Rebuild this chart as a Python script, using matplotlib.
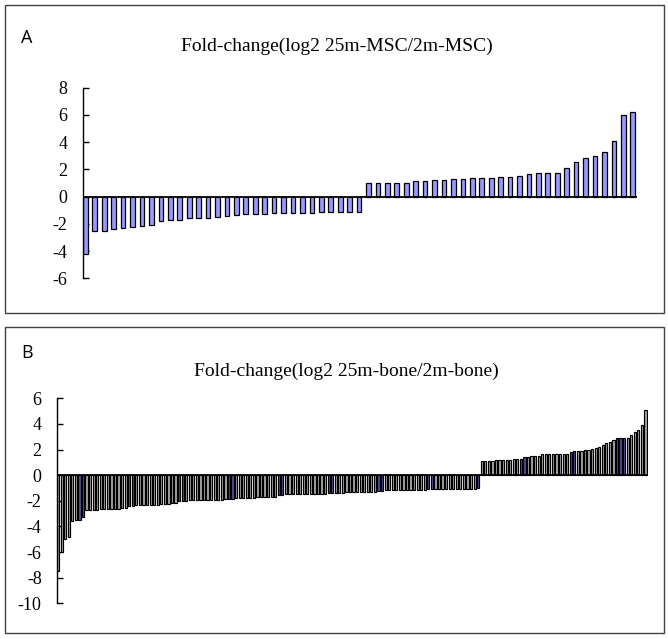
import matplotlib
matplotlib.use("Agg")
import matplotlib.pyplot as plt
from matplotlib.patches import Rectangle
import numpy as np

plt.rcParams["axes.unicode_minus"] = False

# panel A: log2 fold change 25m-MSC / 2m-MSC, sorted
msc_down = [-4.2, -2.5, -2.5, -2.4, -2.3, -2.25, -2.15, -2.07, -1.8, -1.73,
            -1.73, -1.6, -1.55, -1.55, -1.5, -1.45, -1.37, -1.3, -1.3, -1.25,
            -1.2, -1.2, -1.2, -1.17, -1.17, -1.12, -1.12, -1.12, -1.1, -1.1]
msc_up = [1.02, 1.02, 1.02, 1.02, 1.02, 1.15, 1.15, 1.22, 1.22, 1.3,
          1.3, 1.37, 1.37, 1.37, 1.46, 1.46, 1.54, 1.63, 1.7, 1.7,
          1.7, 2.07, 2.56, 2.8, 2.98, 3.3, 4.1, 6.02, 6.2]

# panel B: log2 fold change 25m-bone / 2m-bone, sorted
bone_down = [-7.5, -6.0, -5.0, -4.8, -3.6, -3.5, -3.5, -3.25, -2.72,
             -2.7, -2.69, -2.68, -2.67, -2.66, -2.66, -2.65, -2.64, -2.62, -2.6, -2.56,
             -2.42, -2.4,
             -2.36, -2.34, -2.33, -2.32, -2.31, -2.3, -2.29, -2.28, -2.26, -2.24, -2.2, -2.15,
             -2.04, -2.02,
             -1.98, -1.97, -1.96, -1.95, -1.94, -1.93, -1.93, -1.92, -1.91, -1.9, -1.9, -1.89,
             -1.87, -1.86,
             -1.8, -1.79, -1.78, -1.77, -1.76, -1.75, -1.74, -1.73, -1.72, -1.71, -1.7, -1.68,
             -1.56, -1.55,
             -1.5, -1.5, -1.49, -1.49, -1.48, -1.48, -1.47, -1.47, -1.46, -1.46, -1.45, -1.45,
             -1.42, -1.41,
             -1.38, -1.37, -1.36, -1.35, -1.34, -1.34, -1.33, -1.33, -1.32, -1.32, -1.31, -1.3,
             -1.22, -1.21,
             -1.18, -1.18, -1.17, -1.17, -1.16, -1.16, -1.15, -1.15, -1.14, -1.14, -1.13, -1.13,
             -1.11, -1.1,
             -1.08, -1.08, -1.07, -1.07, -1.07, -1.06, -1.06, -1.06, -1.05, -1.05, -1.05, -1.05,
             -1.03]
bone_up = [1.14, 1.14, 1.14, 1.14, 1.15, 1.15, 1.16, 1.22, 1.22, 1.23,
           1.24, 1.3, 1.42, 1.44, 1.52, 1.52, 1.53, 1.62, 1.62, 1.63,
           1.63, 1.64, 1.65, 1.66, 1.67, 1.8, 1.86, 1.9, 1.9, 1.95,
           1.97, 2.02, 2.1, 2.2, 2.35, 2.5, 2.6, 2.75, 2.88, 2.88,
           2.88, 2.9, 3.1, 3.35, 3.5, 3.9, 5.05]

title_a = "Fold-change(log2 25m-MSC/2m-MSC)"
title_b = "Fold-change(log2 25m-bone/2m-bone)"

W, H = 668, 639
fig = plt.figure(figsize=(W / 100, H / 100), dpi=100)


def px_box(x0, y0, x1, y1):
    # pixel box (top-left origin) -> figure fraction [l, b, w, h]
    return [x0 / W, 1 - y1 / H, (x1 - x0) / W, (y1 - y0) / H]


def style_axis(ax, ymin, ymax):
    ax.set_ylim(ymin, ymax)
    ax.set_yticks(np.arange(ymin, ymax + 1, 2))
    for s in ["top", "right", "bottom"]:
        ax.spines[s].set_visible(False)
    ax.spines["left"].set_linewidth(1.0)
    ax.set_xticks([])
    ax.tick_params(axis="y", direction="in", length=4, width=1.0, pad=11)
    for lab in ax.get_yticklabels():
        lab.set_family("Liberation Serif")
        lab.set_fontsize(13)
    ax.axhline(0, color="black", lw=1.3, zorder=3)
    ax.patch.set_alpha(0)


# panel frames
for box in [(5, 5, 664, 313), (5, 327, 664, 633)]:
    fig.patches.append(Rectangle((box[0] / W, 1 - box[3] / H), (box[2] - box[0]) / W,
                                 (box[3] - box[1]) / H, transform=fig.transFigure,
                                 fill=False, ec="#404040", lw=1.0))

# panel A
vals_a = msc_down + msc_up
axa = fig.add_axes(px_box(83, 87.7, 637, 278.3))
axa.bar(np.arange(len(vals_a)), vals_a, width=0.5, color="#9999ff",
        edgecolor="black", linewidth=0.9, zorder=2)
axa.set_xlim(-0.25, len(vals_a) - 0.55)
style_axis(axa, -6, 8)
fig.text(337 / W, 1 - 46.7 / H, title_a, ha="center", va="center",
         family="Liberation Serif", fontsize=14)
fig.text(27 / W, 1 - 37.7 / H, "A", ha="center", va="center",
         family="Open Sans", fontsize=13)

# panel B
vals_b = bone_down + bone_up
n_b = len(vals_b)
n_dn = len(bone_down)
hl = [i for i in range(n_dn) if i % 14 in (6, 7)]
hl += [n_dn + k for k in (11, 12, 25, 26, 38, 39, 40)]
colors_b = ["#50509e" if i in hl else "#a8a8a8" for i in range(n_b)]
axb = fig.add_axes(px_box(57, 398.3, 648, 603.3))
axb.bar(np.arange(n_b), vals_b, width=0.62, color=colors_b,
        edgecolor="black", linewidth=0.85, zorder=2)
axb.set_xlim(-0.3, n_b - 0.3)
style_axis(axb, -10, 6)
fig.text(346 / W, 1 - 371.7 / H, title_b, ha="center", va="center",
         family="Liberation Serif", fontsize=14)
fig.text(27 / W, 1 - 353 / H, "B", ha="center", va="center",
         family="Open Sans", fontsize=13)

fig.savefig("out.png", dpi=100)
